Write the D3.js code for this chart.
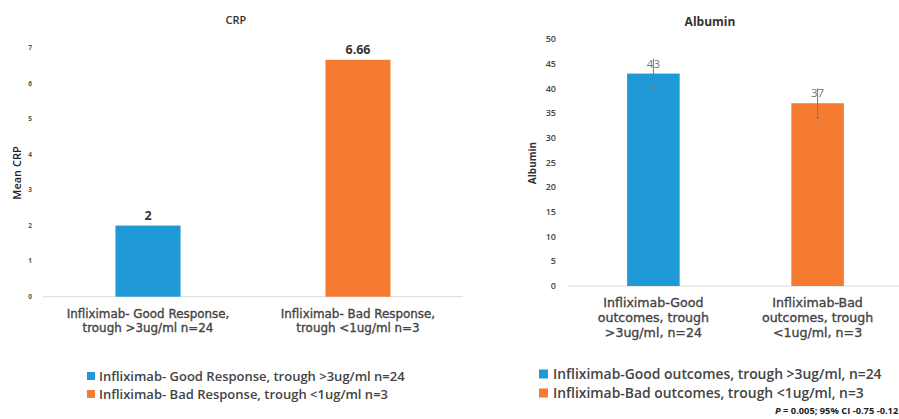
<!DOCTYPE html>
<html>
<head>
<meta charset="utf-8">
<script src="https://cdn.jsdelivr.net/npm/d3@7"></script>
<style>
    body { margin: 0; background: #fff; }
    svg text { font-family: "Open Sans", sans-serif; }
    svg text.cat { font-family: "DejaVu Sans", sans-serif; stroke: #444; stroke-width: 0.35px; }
</style>
</head>
<body>
<svg id="chart" width="899" height="419"></svg>
<script>
// CRP panel
const crpGroups = ['Infliximab- Good Response, trough >3ug/ml n=24', 'Infliximab- Bad Response, trough <1ug/ml n=3'];
const crpAxisLines = [['Infliximab- Good Response,', 'trough >3ug/ml n=24'], ['Infliximab- Bad Response,', 'trough <1ug/ml n=3']];
const crpValues = [2, 6.66];
const crpTicks = [0, 1, 2, 3, 4, 5, 6, 7];

// Albumin panel
const albGroups = ['Infliximab-Good outcomes, trough >3ug/ml, n=24', 'Infliximab-Bad outcomes, trough <1ug/ml, n=3'];
const albAxisLines = [['Infliximab-Good', 'outcomes, trough', '>3ug/ml, n=24'], ['Infliximab-Bad', 'outcomes, trough', '<1ug/ml, n=3']];
const albValues = [43, 37];
const albErrors = [3, 3];
const albTicks = [0, 5, 10, 15, 20, 25, 30, 35, 40, 45, 50];

const colors = ['#1f9ad6', '#f47b30'];

const svg = d3.select('#chart');

// ---------- CRP ----------
{
    const x = d3.scaleBand().domain([0, 1]).range([43, 463]).paddingInner(0.69).paddingOuter(0.345);
    const y = d3.scaleLinear().domain([0, 7]).range([296.7, 47.7]);
    const g = svg.append('g');

    g.append('text').attr('x', 236).attr('y', 24).attr('text-anchor', 'middle')
        .style('font-size', '11px').style('font-weight', 600).style('fill', '#333').text('CRP');

    g.append('line').attr('x1', 43).attr('x2', 463).attr('y1', y(0)).attr('y2', y(0))
        .attr('stroke', '#d9d9d9').attr('stroke-width', 1);

    g.selectAll('.tick-label').data(crpTicks).enter().append('text')
        .attr('x', 30).attr('y', d => y(d)).attr('dy', '0.35em').attr('text-anchor', 'middle')
        .style('font-size', '6.5px').style('font-weight', 700).style('fill', '#555').text(d => d);

    g.append('text').attr('transform', 'translate(21,173) rotate(-90)').attr('text-anchor', 'middle')
        .style('font-size', '11px').style('font-weight', 600).style('fill', '#222').text('Mean CRP');

    g.selectAll('.bar').data(crpValues).enter().append('rect')
        .attr('x', (d, i) => x(i)).attr('width', x.bandwidth())
        .attr('y', d => y(d)).attr('height', d => y(0) - y(d))
        .attr('fill', (d, i) => colors[i]);

    g.selectAll('.val').data(crpValues).enter().append('text')
        .attr('x', (d, i) => x(i) + x.bandwidth() / 2).attr('y', d => y(d) - 6)
        .attr('text-anchor', 'middle')
        .style('font-size', '12.5px').style('font-weight', 700).style('fill', '#333').text(d => d);

    crpAxisLines.forEach((lines, i) => {
        lines.forEach((t, j) => {
            g.append('text').attr('class', 'cat').attr('x', x(i) + x.bandwidth() / 2).attr('y', 317.5 + j * 14)
                .attr('text-anchor', 'middle').style('font-size', '11.9px')
                .style('fill', '#444').text(t);
        });
    });

    crpGroups.forEach((t, i) => {
        const ly = 376 + i * 18;
        g.append('rect').attr('x', 87).attr('y', ly - 4).attr('width', 8).attr('height', 8).attr('fill', colors[i]);
        g.append('text').attr('x', 99).attr('y', ly).attr('dy', '0.35em')
            .style('font-size', '13px').style('font-weight', 600).style('fill', '#444').text(t);
    });
}

// ---------- Albumin ----------
{
    const x = d3.scaleBand().domain([0, 1]).range([568, 903]).paddingInner(0.68).paddingOuter(0.36);
    const y = d3.scaleLinear().domain([0, 50]).range([286, 39]);
    const g = svg.append('g');

    g.append('text').attr('x', 710).attr('y', 26).attr('text-anchor', 'middle')
        .style('font-size', '12px').style('font-weight', 700).style('fill', '#333').text('Albumin');

    g.append('line').attr('x1', 568).attr('x2', 899).attr('y1', y(0)).attr('y2', y(0))
        .attr('stroke', '#d9d9d9').attr('stroke-width', 1);

    g.selectAll('.tick-label').data(albTicks).enter().append('text')
        .attr('x', 556).attr('y', d => y(d)).attr('dy', '0.35em').attr('text-anchor', 'end')
        .style('font-size', '9px').style('font-weight', 600).style('fill', '#444').text(d => d);

    g.append('text').attr('transform', 'translate(536,163) rotate(-90)').attr('text-anchor', 'middle')
        .style('font-size', '10px').style('font-weight', 700).style('fill', '#333').text('Albumin');

    g.selectAll('.bar').data(albValues).enter().append('rect')
        .attr('x', (d, i) => x(i)).attr('width', x.bandwidth())
        .attr('y', d => y(d)).attr('height', d => y(0) - y(d))
        .attr('fill', (d, i) => colors[i]);

    g.selectAll('.err').data(albValues).enter().append('line')
        .attr('x1', (d, i) => x(i) + x.bandwidth() / 2).attr('x2', (d, i) => x(i) + x.bandwidth() / 2)
        .attr('y1', (d, i) => y(d - albErrors[i])).attr('y2', (d, i) => y(d + albErrors[i]))
        .attr('stroke', '#777').attr('stroke-width', 1);
    g.selectAll('.cap').data(albValues).enter().append('line')
        .attr('x1', (d, i) => x(i) + x.bandwidth() / 2 - 1.5).attr('x2', (d, i) => x(i) + x.bandwidth() / 2 + 1.5)
        .attr('y1', (d, i) => y(d - albErrors[i])).attr('y2', (d, i) => y(d - albErrors[i]))
        .attr('stroke', '#777').attr('stroke-width', 1);

    g.selectAll('.val').data(albValues).enter().append('text')
        .attr('x', (d, i) => x(i) + x.bandwidth() / 2).attr('y', d => y(d) - 6)
        .attr('text-anchor', 'middle')
        .style('font-size', '11.5px').style('fill', '#777').text(d => d);

    albAxisLines.forEach((lines, i) => {
        lines.forEach((t, j) => {
            g.append('text').attr('class', 'cat').attr('x', x(i) + x.bandwidth() / 2).attr('y', 306.5 + j * 15)
                .attr('text-anchor', 'middle').style('font-size', '12.6px')
                .style('fill', '#444').text(t);
        });
    });

    albGroups.forEach((t, i) => {
        const ly = 374 + i * 19;
        g.append('rect').attr('x', 539).attr('y', ly - 4.5).attr('width', 9).attr('height', 9).attr('fill', colors[i]);
        g.append('text').attr('x', 553).attr('y', ly).attr('dy', '0.35em')
            .style('font-size', '13.9px').style('font-weight', 600).style('fill', '#444').text(t);
    });

    const note = g.append('text').attr('x', 775).attr('y', 414)
        .style('font-size', '9.3px').style('font-weight', 700).style('fill', '#222');
    note.append('tspan').style('font-style', 'italic').text('P');
    note.append('tspan').text(' = 0.005; 95% CI -0.75 -0.12');
}
</script>
</body>
</html>
